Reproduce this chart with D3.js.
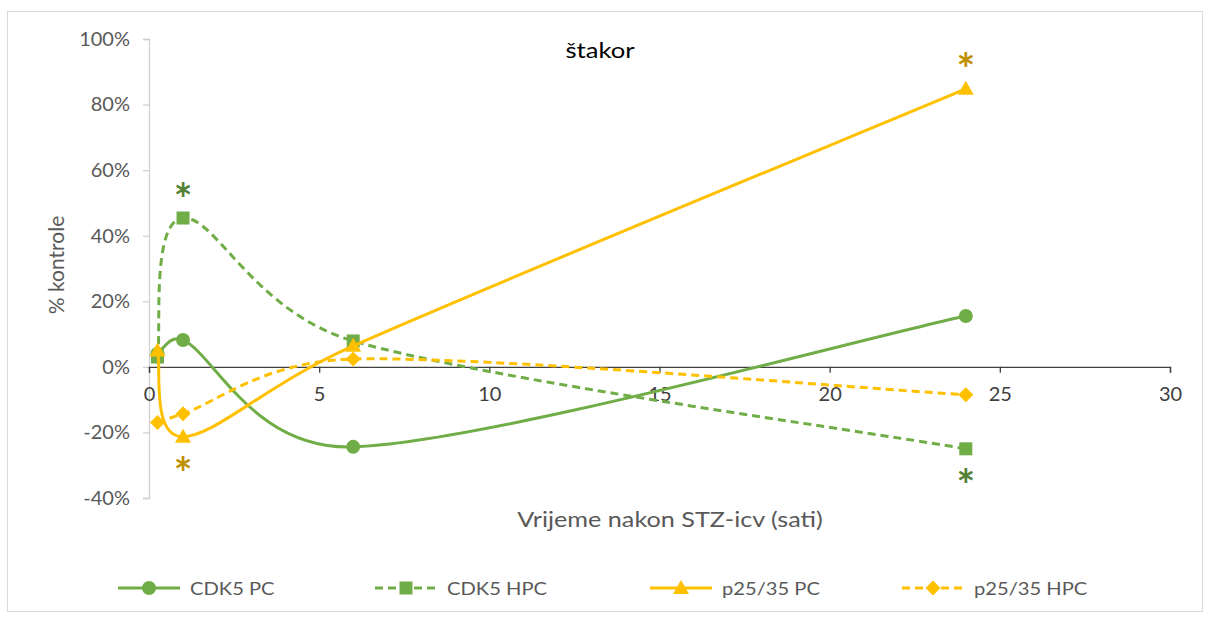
<!DOCTYPE html>
<html>
<head>
<meta charset="utf-8">
<script src="https://cdn.jsdelivr.net/npm/d3@7"></script>
<style>
  body { margin: 0; background: #fff; }
  text { font-family: Lato, "Liberation Sans", sans-serif; }
</style>
</head>
<body>
<div id="chart"></div>
<script>
// data
const hours = [0.25, 1, 6, 24];
const cdk5PC = [0.04, 0.082, -0.244, 0.155];
const cdk5HPC = [0.03, 0.454, 0.079, -0.25];
const p2535PC = [0.05, -0.213, 0.064, 0.848];
const p2535HPC = [-0.17, -0.143, 0.024, -0.085];

const xTicks = [0, 5, 10, 15, 20, 25, 30];
const yTicks = [-0.4, -0.2, 0, 0.2, 0.4, 0.6, 0.8, 1.0];

const seriesNames = ["CDK5 PC", "CDK5 HPC", "p25/35 PC", "p25/35 HPC"];
const seriesValues = [cdk5PC, cdk5HPC, p2535PC, p2535HPC];
const seriesColors = ["#70ad47", "#70ad47", "#ffc000", "#ffc000"];
const seriesDash = [null, "8,5", null, "8,5"];
const seriesMarker = ["circle", "square", "triangle", "diamond"];

// significance marks: series index, point index, side (-1 above, 1 below)
const stars = [
  { s: 1, i: 1, side: -1, color: "#548235" },
  { s: 2, i: 1, side: 1, color: "#bf9000" },
  { s: 2, i: 3, side: -1, color: "#bf9000" },
  { s: 1, i: 3, side: 1, color: "#548235" },
];

const width = 1209, height = 617;
const svg = d3.select("#chart").append("svg")
  .attr("width", width).attr("height", height);

// stretch text sideways around its anchor (the reference is a widened picture)
function stretch(sel, k) {
  sel.attr("transform", function () {
    const t = d3.select(this);
    const tx = +t.attr("x") || 0, ty = +t.attr("y") || 0;
    return `translate(${tx},${ty}) scale(${k},1) translate(${-tx},${-ty})`;
  });
}

// chart border
svg.append("rect")
  .attr("x", 7.5).attr("y", 11.5)
  .attr("width", 1195).attr("height", 600)
  .attr("fill", "#fff").attr("stroke", "#d9d9d9");

const x = d3.scaleLinear().domain([0, 30]).range([149, 1170]);
const y = d3.scaleLinear().domain([-0.4, 1.0]).range([498, 39]);

// y axis
const yAxis = svg.append("g")
  .attr("transform", "translate(" + x(0) + ",0)")
  .call(d3.axisLeft(y).tickValues(yTicks).tickSize(6).tickPadding(13)
    .tickFormat((d) => Math.round(d * 100) + "%"));
yAxis.select(".domain").attr("stroke", "#d0d0d0").attr("stroke-width", 1.3);
yAxis.selectAll(".tick line").attr("stroke", "#d0d0d0").attr("stroke-width", 1.3);
yAxis.selectAll("text").attr("fill", "#595959").style("font-size", "20px");

// x axis sits on y = 0
const xAxis = svg.append("g")
  .attr("transform", "translate(0," + y(0) + ")")
  .call(d3.axisBottom(x).tickValues(xTicks).tickSize(6).tickPadding(14)
    .tickFormat((d) => d));
xAxis.select(".domain").attr("stroke", "#404040").attr("stroke-width", 1.3);
xAxis.selectAll(".tick line").attr("stroke", "#404040").attr("stroke-width", 1.3);
xAxis.selectAll("text").attr("fill", "#404040").style("font-size", "20px");

// title and axis titles
svg.append("text").attr("x", 600).attr("y", 58)
  .attr("text-anchor", "middle").attr("fill", "#000")
  .style("font-size", "21px").text("štakor")
  .call(stretch, 1.22);
svg.append("text").attr("x", 670).attr("y", 527)
  .attr("text-anchor", "middle").attr("fill", "#595959")
  .style("font-size", "21px").text("Vrijeme nakon STZ-icv (sati)")
  .call(stretch, 1.2);
svg.append("text")
  .attr("transform", "translate(64,265) rotate(-90)")
  .attr("text-anchor", "middle").attr("fill", "#595959")
  .style("font-size", "21px").text("% kontrole");

// Excel-like smoothing: cardinal handles, capped at half the segment
function smoothPath(pts) {
  const p = d3.path();
  const dist = (a, b) => Math.hypot(b[0] - a[0], b[1] - a[1]);
  p.moveTo(pts[0][0], pts[0][1]);
  for (let i = 0; i < pts.length - 1; i++) {
    const p1 = pts[i], p2 = pts[i + 1];
    const p0 = i > 0 ? pts[i - 1] : p1;
    const p3 = i < pts.length - 2 ? pts[i + 2] : p2;
    const d12 = dist(p1, p2), d02 = dist(p0, p2), d13 = dist(p1, p3);
    let f0 = 1 / 6, f1 = 1 / 6;
    if (d02 / 6 >= d12 / 2) f0 = d12 / (2 * d02);
    if (d13 / 6 >= d12 / 2) f1 = d12 / (2 * d13);
    p.bezierCurveTo(
      p1[0] + (p2[0] - p0[0]) * f0, p1[1] + (p2[1] - p0[1]) * f0,
      p2[0] - (p3[0] - p1[0]) * f1, p2[1] - (p3[1] - p1[1]) * f1,
      p2[0], p2[1]);
  }
  return p.toString();
}

function drawMarker(g, type, cx, cy, color) {
  if (type === "circle") {
    g.append("circle").attr("cx", cx).attr("cy", cy).attr("r", 7).attr("fill", color);
  } else if (type === "square") {
    g.append("rect").attr("x", cx - 6.5).attr("y", cy - 6.5)
      .attr("width", 13).attr("height", 13).attr("fill", color);
  } else if (type === "triangle") {
    g.append("path")
      .attr("d", `M${cx},${cy - 8}L${cx + 8},${cy + 6}L${cx - 8},${cy + 6}Z`)
      .attr("fill", color);
  } else {
    g.append("path")
      .attr("d", `M${cx},${cy - 7.5}L${cx + 7.5},${cy}L${cx},${cy + 7.5}L${cx - 7.5},${cy}Z`)
      .attr("fill", color);
  }
}

const plot = svg.append("g");
seriesValues.forEach((vals, si) => {
  const pts = hours.map((h, i) => [x(h), y(vals[i])]);
  plot.append("path")
    .attr("d", smoothPath(pts))
    .attr("fill", "none")
    .attr("stroke", seriesColors[si])
    .attr("stroke-width", 3)
    .attr("stroke-dasharray", seriesDash[si]);
  const mg = plot.append("g");
  pts.forEach((p) => drawMarker(mg, seriesMarker[si], p[0], p[1], seriesColors[si]));
});

// asterisks
const starSize = 44;
svg.selectAll(".star").data(stars).enter().append("text")
  .attr("class", "star")
  .attr("x", (d) => x(hours[d.i]))
  .attr("y", (d) => y(seriesValues[d.s][d.i]) + d.side * 28 + starSize * 0.56)
  .attr("text-anchor", "middle")
  .attr("fill", (d) => d.color)
  .style("font-size", starSize + "px")
  .style("font-weight", "bold")
  .text("*");

// legend
const legendX = [118, 375, 650, 902];
const legend = svg.append("g");
seriesNames.forEach((name, si) => {
  const lx = legendX[si], ly = 588;
  legend.append("line")
    .attr("x1", lx).attr("x2", lx + 62).attr("y1", ly).attr("y2", ly)
    .attr("stroke", seriesColors[si]).attr("stroke-width", 3)
    .attr("stroke-dasharray", seriesDash[si]);
  drawMarker(legend, seriesMarker[si], lx + 31, ly, seriesColors[si]);
  legend.append("text")
    .attr("x", lx + 72).attr("y", ly + 7)
    .attr("fill", "#595959").style("font-size", "18px")
    .text(name)
    .call(stretch, 1.12);
});
</script>
</body>
</html>
